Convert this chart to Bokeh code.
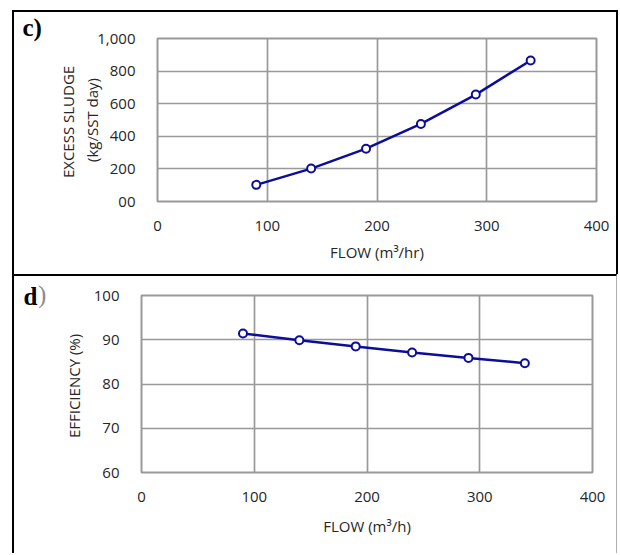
from bokeh.plotting import figure
from bokeh.layouts import column
from bokeh.models import Range1d, FixedTicker, Title
from bokeh.embed import file_html
from bokeh.resources import INLINE

# ---- data ----
flow = [90, 140, 190, 240, 290, 340]
sludge = [102, 202, 324, 476, 656, 865]
efficiency = [91.4, 89.9, 88.5, 87.1, 85.9, 84.7]
x_ticks = [0, 100, 200, 300, 400]
sludge_ticks = [0, 200, 400, 600, 800, 1000]
sludge_tick_labels = ["00", "200", "400", "600", "800", "1,000"]
eff_ticks = [60, 70, 80, 90, 100]

FONT = "Open Sans"
LINE = "#0d0d9c"
GRID = "#999999"
TXT = "#262626"


def style(p, xt, yt, ylab_standoff, xlab_standoff):
    p.frame_align = False
    p.outline_line_color = GRID
    p.outline_line_width = 2
    p.background_fill_color = "white"
    p.border_fill_color = "white"
    for g in (p.xgrid, p.ygrid):
        g.grid_line_color = GRID
        g.grid_line_width = 1.7
    p.xaxis.ticker = FixedTicker(ticks=xt)
    p.yaxis.ticker = FixedTicker(ticks=yt)
    for ax in (p.xaxis, p.yaxis):
        ax.axis_line_color = None
        ax.major_tick_line_color = None
        ax.minor_tick_line_color = None
        ax.major_label_text_font = FONT
        ax.major_label_text_font_size = "15px"
        ax.major_label_text_color = TXT
        ax.axis_label_text_font = FONT
        ax.axis_label_text_font_size = "15px"
        ax.axis_label_text_font_style = "normal"
        ax.axis_label_text_color = TXT
    p.xaxis.major_label_standoff = 13
    p.yaxis.major_label_standoff = 16
    p.xaxis.axis_label_standoff = xlab_standoff
    p.yaxis.axis_label_standoff = ylab_standoff


def panel_title(p, text, offset, standoff):
    p.title.text = text
    p.title.align = "left"
    p.title.offset = offset
    p.title.standoff = standoff
    p.title.text_font = "Liberation Serif"
    p.title.text_font_style = "bold"
    p.title.text_font_size = "25px"
    p.title.text_color = "black"


# ---- panel c ----
p1 = figure(width=606, height=264, output_backend="svg", toolbar_location=None,
            x_range=Range1d(0, 400), y_range=Range1d(0, 1000),
            min_border_left=143, min_border_right=24, min_border_top=26,
            min_border_bottom=75,
            x_axis_label="FLOW (m\u00b3/hr)",
            y_axis_label="EXCESS  SLUDGE\n(kg/SST day)")
style(p1, x_ticks, sludge_ticks, -8, 8)
p1.yaxis.major_label_overrides = {t: s for t, s in zip(sludge_ticks, sludge_tick_labels)}
p1.line(flow, sludge, line_color=LINE, line_width=2.5)
p1.scatter(flow, sludge, marker="circle", size=8, line_color=LINE, line_width=2,
           fill_color="white")
panel_title(p1, "c)", -135, -4)
p1.styles = {"border-left": "2px solid black", "border-top": "2px solid black",
             "border-right": "2px solid black"}

# ---- panel d ----
p2 = figure(width=605, height=279, output_backend="svg", toolbar_location=None,
            x_range=Range1d(0, 400), y_range=Range1d(60, 100),
            min_border_left=127, min_border_right=27, min_border_top=19,
            min_border_bottom=83,
            x_axis_label="FLOW (m\u00b3/h)",
            y_axis_label="EFFICIENCY  (%)")
style(p2, x_ticks, eff_ticks, 7, 11)
p2.line(flow, efficiency, line_color=LINE, line_width=2.5)
p2.scatter(flow, efficiency, marker="circle", size=8, line_color=LINE, line_width=2,
           fill_color="white")
panel_title(p2, "d", -118, -38)
p2.add_layout(Title(text=")", align="left", offset=-103.5, standoff=-24,
                    text_font="Liberation Serif", text_font_style="normal",
                    text_font_size="25px", text_color="#8c8c8c"), "above")
p2.styles = {"border-left": "2px solid black", "border-top": "2px solid black",
             "border-right": "1px solid #b0b0b0"}

layout = column(p1, p2, margin=(10, 0, 0, 12), spacing=0)

open("out.html", "w").write(file_html(layout, INLINE))
